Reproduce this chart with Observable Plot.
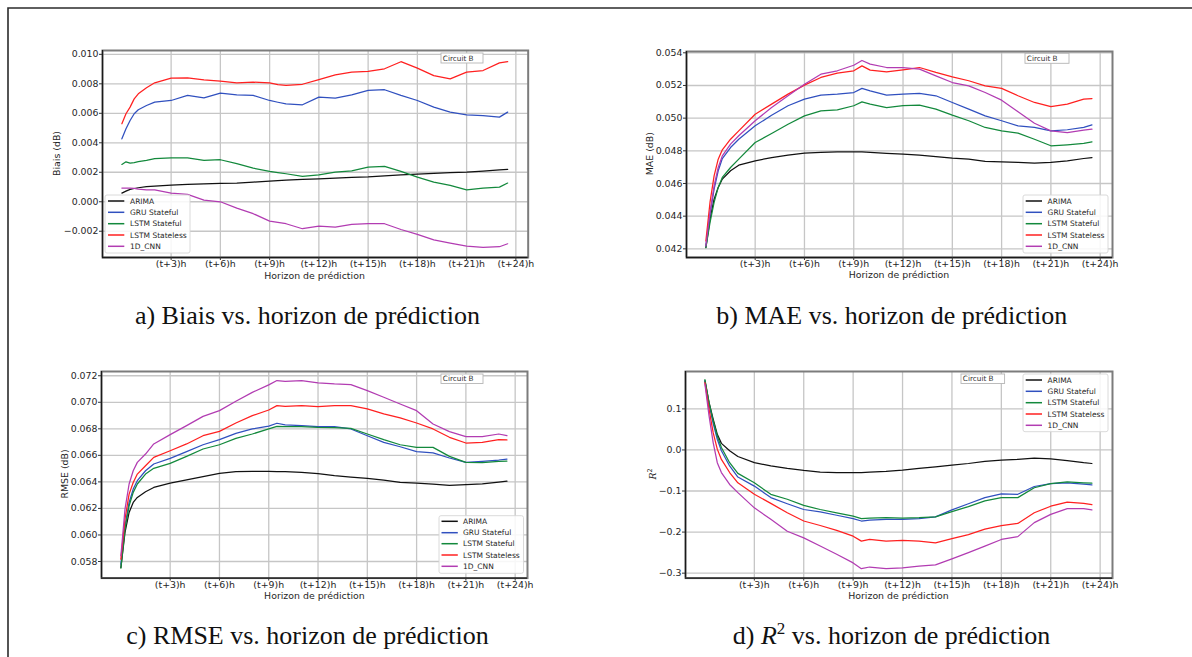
<!DOCTYPE html>
<html><head><meta charset="utf-8">
<script src="https://cdn.jsdelivr.net/npm/d3@7"></script>
<script src="https://cdn.jsdelivr.net/npm/@observablehq/plot@0.6"></script>
<style>
html,body{margin:0;padding:0;background:#fff;}
#page{position:relative;width:1192px;height:657px;overflow:hidden;background:#fff;}
.panel{position:absolute;}
#overlay{position:absolute;left:0;top:0;}
</style></head><body><div id="page"></div>
<script>
// ---------- data ----------
const hours = [0,0.25,0.5,0.75,1,1.5,2,3,4,5,6,7,8,9,9.5,10,11,12,13,14,15,16,17,18,19,20,21,22,23,23.5];
const seriesNames = ["ARIMA","GRU Stateful","LSTM Stateful","LSTM Stateless","1D_CNN"];
const seriesColors = ["#111111","#3050bf","#13893c","#ff2020","#b23cb2"];
const xTicks = [3,6,9,12,15,18,21,24];
const xTickLabels = ["(t+3)h","(t+6)h","(t+9)h","(t+12)h","(t+15)h","(t+18)h","(t+21)h","(t+24)h"];
const xLabel = "Horizon de prédiction";
const circuitLabel = "Circuit B";

// a) Biais
const biaisTicks = [-0.002,0,0.002,0.004,0.006,0.008,0.010];
const biaisArima = [0.00059,0.00072,0.00084,0.0009,0.00095,0.00102,0.00106,0.00113,0.00118,0.00122,0.00124,0.00127,0.00133,0.0014,0.00143,0.00147,0.00151,0.00156,0.0016,0.00165,0.00169,0.00176,0.00183,0.00187,0.00192,0.00197,0.00201,0.00208,0.00217,0.00219];
const biaisGru = [0.00427,0.00495,0.00551,0.00597,0.00624,0.00653,0.00676,0.00687,0.00721,0.00705,0.00737,0.00725,0.00721,0.00687,0.00675,0.00664,0.00658,0.0071,0.00703,0.00725,0.00755,0.0076,0.00721,0.00687,0.00642,0.00608,0.0059,0.00585,0.00574,0.00608];
const biaisLstmSf = [0.00253,0.00271,0.00262,0.00266,0.00272,0.0028,0.00292,0.00298,0.00298,0.0028,0.00285,0.00258,0.00228,0.00206,0.00198,0.0019,0.00172,0.00183,0.00201,0.0021,0.00235,0.0024,0.00206,0.00167,0.00133,0.00111,0.00081,0.00093,0.00099,0.00127];
const biaisLstmSl = [0.00529,0.00597,0.00642,0.00698,0.00732,0.00773,0.00807,0.00838,0.0084,0.00827,0.00818,0.00807,0.00811,0.00807,0.00795,0.00789,0.00797,0.00829,0.00861,0.00879,0.00884,0.00902,0.0095,0.00906,0.00856,0.00834,0.00879,0.0089,0.00942,0.0095];
const biaisCnn = [0.00093,0.00093,0.00093,0.0009,0.00086,0.00081,0.00081,0.00059,0.0005,0.00011,0,-0.00043,-0.00081,-0.00131,-0.0014,-0.00149,-0.00183,-0.00165,-0.00172,-0.00154,-0.00149,-0.00149,-0.00188,-0.00221,-0.00258,-0.0028,-0.00301,-0.0031,-0.00305,-0.00285];

// b) MAE
const maeTicks = [0.042,0.044,0.046,0.048,0.050,0.052,0.054];
const maeArima = [0.04208,0.04382,0.04504,0.04576,0.04627,0.04678,0.04712,0.04739,0.04759,0.04773,0.04786,0.0479,0.04794,0.04794,0.04794,0.0479,0.04784,0.0478,0.04773,0.04765,0.04755,0.04749,0.04735,0.04733,0.04729,0.04724,0.04729,0.04739,0.04753,0.04759];
const maeGru = [0.04218,0.04412,0.04565,0.04678,0.04753,0.0482,0.04871,0.04953,0.05018,0.05076,0.05116,0.05141,0.05147,0.05157,0.05182,0.05167,0.05141,0.05147,0.05151,0.05137,0.05096,0.05055,0.05014,0.04984,0.04953,0.04943,0.04922,0.04929,0.04943,0.04959];
const maeLstmSf = [0.04208,0.04361,0.04484,0.04576,0.04637,0.04698,0.04749,0.04851,0.04906,0.04963,0.05014,0.05045,0.05051,0.05076,0.051,0.05086,0.05065,0.05076,0.0508,0.05055,0.05018,0.04984,0.04943,0.04922,0.04908,0.04871,0.04831,0.04837,0.04845,0.04855];
const maeLstmSl = [0.04249,0.04484,0.04647,0.04749,0.04806,0.04871,0.04922,0.05024,0.05086,0.05147,0.05202,0.05249,0.05276,0.0529,0.0532,0.05294,0.05284,0.05296,0.0531,0.0528,0.05253,0.05229,0.05198,0.05182,0.05137,0.05096,0.05071,0.05086,0.05116,0.0512];
const maeCnn = [0.04218,0.04422,0.04586,0.04698,0.04769,0.04841,0.04892,0.04984,0.05065,0.05137,0.05208,0.05269,0.0529,0.05324,0.05353,0.05331,0.0531,0.0531,0.053,0.05259,0.05218,0.05198,0.05157,0.0511,0.05039,0.04969,0.04922,0.04912,0.04927,0.04933];

// c) RMSE
const rmseTicks = [0.058,0.060,0.062,0.064,0.066,0.068,0.070,0.072];
const rmseArima = [0.05755,0.06019,0.0617,0.06245,0.06283,0.06326,0.06358,0.06391,0.06416,0.06439,0.06464,0.06477,0.06479,0.06479,0.06477,0.06477,0.06472,0.06462,0.06447,0.06436,0.06426,0.06414,0.06396,0.06391,0.06384,0.06374,0.06379,0.06386,0.06399,0.06406];
const rmseGru = [0.0578,0.06069,0.06245,0.06346,0.06409,0.06484,0.06535,0.06577,0.06628,0.0668,0.06718,0.06766,0.06799,0.06821,0.06842,0.06829,0.06824,0.06816,0.06816,0.06799,0.06748,0.06698,0.06665,0.06628,0.06618,0.0658,0.06547,0.06555,0.06565,0.06572];
const rmseLstmSf = [0.0575,0.06044,0.0622,0.06321,0.06384,0.06459,0.06502,0.0654,0.06592,0.06648,0.0668,0.06728,0.06761,0.06799,0.06819,0.06816,0.06816,0.06811,0.06809,0.06804,0.06761,0.06718,0.0668,0.0666,0.0666,0.06592,0.06547,0.06545,0.06555,0.06557];
const rmseLstmSl = [0.05818,0.0612,0.06308,0.06396,0.06459,0.06522,0.06585,0.06635,0.06686,0.06748,0.06781,0.06844,0.06899,0.06942,0.06975,0.0697,0.06975,0.06967,0.06975,0.06975,0.0695,0.06912,0.06882,0.06844,0.06799,0.06736,0.06693,0.06698,0.06718,0.06716];
const rmseCnn = [0.05843,0.06195,0.06384,0.06484,0.06547,0.0661,0.06686,0.06756,0.06824,0.06894,0.06937,0.07008,0.07075,0.07131,0.07164,0.07158,0.07164,0.07146,0.07138,0.07133,0.07088,0.07038,0.06987,0.06937,0.06836,0.06779,0.06741,0.06741,0.06761,0.06748];

// d) R2
const r2Ticks = [-0.3,-0.2,-0.1,0,0.1];
const r2Arima = [0.168,0.115,0.075,0.038,0.016,-0.002,-0.016,-0.031,-0.039,-0.045,-0.05,-0.054,-0.055,-0.055,-0.055,-0.054,-0.052,-0.049,-0.045,-0.041,-0.037,-0.033,-0.028,-0.025,-0.023,-0.02,-0.022,-0.026,-0.031,-0.033];
const r2Gru = [0.168,0.111,0.065,0.026,-0.002,-0.039,-0.066,-0.088,-0.116,-0.131,-0.145,-0.151,-0.159,-0.167,-0.173,-0.171,-0.169,-0.169,-0.167,-0.163,-0.146,-0.131,-0.116,-0.107,-0.108,-0.089,-0.082,-0.08,-0.083,-0.085];
const r2LstmSf = [0.171,0.115,0.071,0.034,0.006,-0.031,-0.057,-0.08,-0.108,-0.12,-0.135,-0.145,-0.153,-0.161,-0.167,-0.166,-0.165,-0.166,-0.165,-0.163,-0.15,-0.138,-0.124,-0.116,-0.116,-0.092,-0.082,-0.078,-0.08,-0.081];
const r2LstmSl = [0.164,0.099,0.042,0.002,-0.023,-0.055,-0.08,-0.108,-0.13,-0.153,-0.173,-0.184,-0.196,-0.21,-0.222,-0.218,-0.222,-0.22,-0.222,-0.226,-0.216,-0.206,-0.193,-0.184,-0.179,-0.153,-0.137,-0.127,-0.13,-0.133];
const r2Cnn = [0.16,0.083,0.018,-0.031,-0.055,-0.084,-0.104,-0.141,-0.169,-0.198,-0.214,-0.234,-0.254,-0.275,-0.289,-0.285,-0.289,-0.287,-0.283,-0.28,-0.265,-0.25,-0.234,-0.218,-0.211,-0.177,-0.157,-0.143,-0.143,-0.146];

// ---------- layout ----------
const xDomain = [-1.18, 24.75];
const panels = [
  {values:[biaisArima,biaisGru,biaisLstmSf,biaisLstmSl,biaisCnn], ticks:biaisTicks, fmt:".3f", yDomain:[-0.00378,0.01026],
   yLabel:"Biais (dB)", caption:"a) Biais vs. horizon de prédiction",
   frame:{L:101.7,R:527.4,T:50,B:257}, ylabX:56.6, capX:307.5, capY:324,
   legend:{x:105,y:195,w:85,h:58,line:108,text:130,rows:[201,212.3,223.7,235,246.3]}, circuit:{x:441,y:53,w:42,h:10}},
  {values:[maeArima,maeGru,maeLstmSf,maeLstmSl,maeCnn], ticks:maeTicks, fmt:".3f", yDomain:[0.04147,0.05408],
   yLabel:"MAE (dB)", caption:"b) MAE vs. horizon de prédiction",
   frame:{L:686,R:1112,T:50.7,B:256.7}, ylabX:649.5, capX:891.7, capY:324,
   legend:{x:1023,y:195,w:85,h:58,line:1025.7,text:1047.6,rows:[201,212.3,223.7,235,246.3]}, circuit:{x:1025,y:53.3,w:44,h:10}},
  {values:[rmseArima,rmseGru,rmseLstmSf,rmseLstmSl,rmseCnn], ticks:rmseTicks, fmt:".3f", yDomain:[0.05675,0.07232],
   yLabel:"RMSE (dB)", caption:"c) RMSE vs. horizon de prédiction",
   frame:{L:101.4,R:527.4,T:370.7,B:577.3}, ylabX:64.3, capX:307.5, capY:644,
   legend:{x:439,y:515.7,w:84.5,h:57.6,line:441.5,text:463,rows:[521.3,532.7,543.7,555,566.3]}, circuit:{x:441,y:374,w:42,h:9.5}},
  {values:[r2Arima,r2Gru,r2LstmSf,r2LstmSl,r2Cnn], ticks:r2Ticks, fmt:".1f", yDomain:[-0.312,0.191],
   yLabel:"R2", caption:"d) R2 vs. horizon de prédiction",
   frame:{L:685,R:1112,T:370.7,B:577.3}, ylabX:653, capX:891.5, capY:644,
   legend:{x:1023,y:374,w:85,h:57.7,line:1025.7,text:1047.6,rows:[380,391.3,402.7,414,425.3]}, circuit:{x:961,y:374,w:43.6,h:9.5}}
];

const page = document.getElementById("page");
const ml = 70, mt = 10, mr = 24, mb = 30;
const tickFont = "'DejaVu Sans', Verdana, sans-serif";

panels.forEach(p => {
  const {L,R,T,B} = p.frame;
  const rows = [];
  p.values.forEach((arr, i) => arr.forEach((v, j) => rows.push({h: hours[j], v, s: seriesNames[i]})));
  const chart = Plot.plot({
    width: (R - L) + ml + mr,
    height: (B - T) + mt + mb,
    marginLeft: ml, marginTop: mt, marginRight: mr, marginBottom: mb,
    style: {fontFamily: tickFont, fontSize: "9.4px", color: "#262626", background: "transparent", overflow: "visible"},
    x: {domain: xDomain},
    y: {domain: p.yDomain},
    color: {domain: seriesNames, range: seriesColors},
    marks: [
      Plot.gridX(xTicks, {stroke: "#c6c6c6", strokeOpacity: 1, strokeWidth: 1.3}),
      Plot.gridY(p.ticks, {stroke: "#c6c6c6", strokeOpacity: 1, strokeWidth: 1.3}),
      Plot.line(rows, {x: "h", y: "v", z: "s", stroke: "s", strokeWidth: 1.25}),
      Plot.frame({stroke: "#7c7c7c", strokeWidth: 2}),
      Plot.ruleX([xDomain[0]], {stroke: "#1a1a1a", strokeWidth: 1.3}),
      Plot.ruleY([p.yDomain[0]], {stroke: "#1a1a1a", strokeWidth: 1.3}),
      Plot.axisX(xTicks, {tickFormat: (d, i) => xTickLabels[i], tickSize: 3, tickPadding: 0, label: null, stroke: "#333"}),
      Plot.axisY(p.ticks, {tickFormat: d3.format(p.fmt), tickSize: 3, tickPadding: 1, label: null, stroke: "#333"})
    ]
  });
  chart.classList.add("panel");
  chart.style.left = (L - ml) + "px";
  chart.style.top = (T - mt) + "px";
  chart.style.maxWidth = "none";
  page.appendChild(chart);
});

// ---------- overlay: labels, legends, captions, border ----------
const ns = "http://www.w3.org/2000/svg";
const ov = document.createElementNS(ns, "svg");
ov.setAttribute("id", "overlay");
ov.setAttribute("width", 1192); ov.setAttribute("height", 657);
page.appendChild(ov);
function el(tag, attrs, parent = ov, text) {
  const e = document.createElementNS(ns, tag);
  for (const k in attrs) e.setAttribute(k, attrs[k]);
  if (text != null) e.textContent = text;
  parent.appendChild(e);
  return e;
}
// outer border
el("path", {d: "M8,700 V8 H1200", fill: "none", stroke: "#2b2b2b", "stroke-width": 1.6});

panels.forEach((p, pi) => {
  const {L,R,T,B} = p.frame;
  const cx = (L + R) / 2, cy = (T + B) / 2;
  // x label
  el("text", {x: cx, y: B + 21.5, "text-anchor": "middle", "font-family": tickFont, "font-size": 9.4, fill: "#262626"}, ov, xLabel);
  // y label
  const yl = el("text", {transform: `translate(${p.ylabX},${cy}) rotate(-90)`, "text-anchor": "middle", dy: "0.35em", "font-family": tickFont, "font-size": 9.4, fill: "#262626"});
  if (p.yLabel === "R2") {
    el("tspan", {"font-style": "italic", "font-family": "'DejaVu Serif', serif"}, yl, "R");
    el("tspan", {dy: -4, "font-size": 6.5}, yl, "2");
  } else yl.textContent = p.yLabel;
  // circuit box
  const c = p.circuit;
  el("rect", {x: c.x, y: c.y, width: c.w, height: c.h, fill: "#fff", stroke: "#b5b5b5", "stroke-width": 0.9});
  el("text", {x: c.x + 1.8, y: c.y + c.h / 2, dy: "0.35em", "font-family": tickFont, "font-size": 7.3, fill: "#333"}, ov, circuitLabel);
  // legend
  const lg = p.legend;
  el("rect", {x: lg.x, y: lg.y, width: lg.w, height: lg.h, rx: 2, fill: "#fff", "fill-opacity": 0.85, stroke: "#d6d6d6", "stroke-width": 0.9});
  seriesNames.forEach((n, i) => {
    el("line", {x1: lg.line, x2: lg.line + 16.3, y1: lg.rows[i], y2: lg.rows[i], stroke: seriesColors[i], "stroke-width": 1.5});
    el("text", {x: lg.text, y: lg.rows[i], dy: "0.35em", "font-family": tickFont, "font-size": 7.5, fill: "#262626"}, ov, n);
  });
  // caption
  const cap = el("text", {x: p.capX, y: p.capY, "text-anchor": "middle", "font-family": "'Liberation Serif', 'Times New Roman', serif", "font-size": 26, fill: "#111"});
  if (pi === 3) {
    el("tspan", {}, cap, "d) ");
    el("tspan", {"font-style": "italic"}, cap, "R");
    el("tspan", {dy: -10, "font-size": 17}, cap, "2");
    el("tspan", {dy: 10}, cap, " vs. horizon de prédiction");
  } else cap.textContent = p.caption;
});
</script></body></html>
